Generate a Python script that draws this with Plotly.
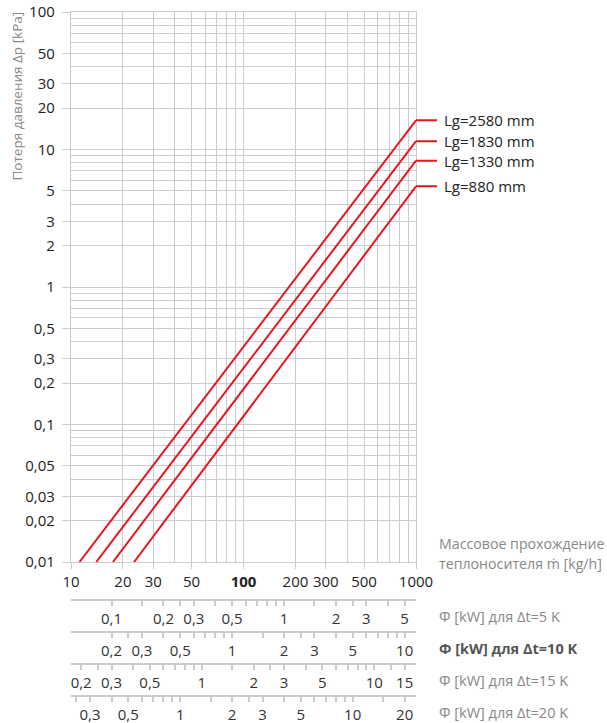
import numpy as np
import plotly.graph_objects as go

# pressure loss lines (start at 0.01 kPa, end at 1000 kg/h)
lg_labels = ["Lg=2580 mm", "Lg=1830 mm", "Lg=1330 mm", "Lg=880 mm"]
m_start = [11.2, 14.0, 17.5, 23.2]
dp_start = [0.01, 0.01, 0.01, 0.01]
m_end = [1000, 1000, 1000, 1000]
dp_end = [16.3, 11.5, 8.3, 5.4]

x_ticks = [10, 20, 30, 50, 100, 200, 300, 500, 1000]
y_ticks = [0.01, 0.02, 0.03, 0.05, 0.1, 0.2, 0.3, 0.5, 1, 2, 3, 5, 10, 20, 30, 50, 100]

# heat output scales under the chart
dt_values = [5, 10, 15, 20]
phi5_major = [0.1, 0.2, 0.3, 0.5, 1, 2, 3, 5]
phi5_minor = [0.15, 0.25, 0.4, 0.6, 0.7, 0.8, 0.9, 1.5, 2.5, 4]
phi10_major = [0.2, 0.3, 0.5, 1, 2, 3, 5, 10]
phi10_minor = [0.25, 0.4, 0.6, 0.7, 0.8, 0.9, 1.5, 2.5, 4, 6, 7, 8, 9]
phi15_major = [0.2, 0.3, 0.5, 1, 2, 3, 5, 10, 15]
phi15_minor = [0.25, 0.4, 0.6, 0.7, 0.8, 0.9, 1.5, 2.5, 4, 6, 7, 8, 9, 12.5]
phi20_major = [0.3, 0.5, 1, 2, 3, 5, 10, 20]
phi20_minor = [0.25, 0.4, 0.6, 0.7, 0.8, 0.9, 1.5, 2.5, 4, 6, 7, 8, 9, 15]
phi_major = [phi5_major, phi10_major, phi15_major, phi20_major]
phi_minor = [phi5_minor, phi10_minor, phi15_minor, phi20_minor]
cp = 4.19  # kJ/(kg K)

W, H = 607, 723
ML, MR, MT, MB = 71, 191, 12, 27
PW, PH = W - ML - MR, H - MT - MB
RED = "#e8161e"
GRID = "#cccccc"
GW = 1.3
FONT = "Open Sans"


def px_x(px):
    return (px - ML) / PW


def px_y(py):
    return (H - MB - py) / PH


def fmt(v):
    return f"{v:g}".replace(".", ",")


x_grid = [d * 10 ** e for e in range(1, 3) for d in range(2, 10)]
y_grid = [d * 10.0 ** e for e in range(-2, 2) for d in range(2, 10)]

fig = go.Figure()
for i in range(len(lg_labels)):
    fig.add_trace(go.Scatter(
        x=[m_start[i], m_end[i]], y=[dp_start[i], dp_end[i]],
        mode="lines", line=dict(color=RED, width=2),
        hoverinfo="skip", showlegend=False))

scale_px = [600, 632, 664, 696]
layout_axes = {}
for i, dt in enumerate(dt_values):
    k = dt * cp / 3600
    name = f"x{i + 2}"
    fig.add_trace(go.Scatter(x=[], y=[], xaxis=name, yaxis="y", showlegend=False))
    layout_axes[f"xaxis{i + 2}"] = dict(
        type="log", overlaying="x", anchor="free", position=px_y(scale_px[i]),
        side="bottom",
        range=[np.log10(10 * k), np.log10(1000 * k)],
        showgrid=False, zeroline=False,
        showline=True, linecolor=GRID, linewidth=2,
        ticks="outside", ticklen=5, tickwidth=1.5, tickcolor=GRID,
        tickvals=phi_major[i], ticktext=[fmt(v) for v in phi_major[i]],
        tickfont=dict(size=15, color="#333"),
        minor=dict(tickmode="array", tickvals=phi_minor[i], ticks="outside",
                   ticklen=5, tickwidth=1.5, tickcolor=GRID, showgrid=False),
    )

y0 = px_y(562)

fig.update_layout(
    width=W, height=H,
    margin=dict(l=ML, r=MR, t=MT, b=MB, autoexpand=False),
    plot_bgcolor="white", paper_bgcolor="white",
    font=dict(family=FONT, size=15, color="#222"),
    showlegend=False,
    xaxis=dict(
        type="log", range=[1, 3],
        tickvals=x_ticks,
        ticktext=["<b>100</b>" if v == 100 else fmt(v) for v in x_ticks],
        ticks="outside", ticklen=6, tickwidth=GW, tickcolor=GRID,
        showgrid=True, gridcolor=GRID, gridwidth=GW,
        minor=dict(tickmode="array", tickvals=x_grid, showgrid=True,
                   gridcolor=GRID, gridwidth=GW, ticks=""),
        showline=True, mirror=True, linecolor=GRID, linewidth=GW,
        zeroline=False, tickfont=dict(size=15, color="#222"),
    ),
    yaxis=dict(
        type="log", range=[-2, 2], domain=[y0, 1],
        tickvals=y_ticks, ticktext=[fmt(v) for v in y_ticks],
        ticks="outside", ticklen=8, tickwidth=GW, tickcolor=GRID,
        ticklabelstandoff=4,
        showgrid=True, gridcolor=GRID, gridwidth=GW,
        minor=dict(tickmode="array", tickvals=y_grid, showgrid=True,
                   gridcolor=GRID, gridwidth=GW, ticks=""),
        showline=True, mirror=True, linecolor=GRID, linewidth=GW,
        zeroline=False, tickfont=dict(size=15, color="#222"),
    ),
    **layout_axes,
)

# line labels with short horizontal leaders
for i, lab in enumerate(lg_labels):
    fig.add_annotation(
        x=np.log10(m_end[i]), y=np.log10(dp_end[i]), xref="x", yref="y",
        text=lab, showarrow=True, arrowhead=0, arrowwidth=2, arrowcolor=RED,
        ax=21, ay=0, xanchor="left", borderpad=6, standoff=0,
        font=dict(size=15, color="#222"))

# axis titles
fig.add_annotation(
    x=px_x(17), y=px_y(10), xref="paper", yref="paper",
    text="Потеря давления Δp [kPa]", textangle=-90, showarrow=False,
    xanchor="center", yanchor="top", font=dict(size=13.5, color="#888"))
fig.add_annotation(
    x=px_x(437), y=px_y(543), xref="paper", yref="paper",
    text="Массовое прохождение", showarrow=False,
    xanchor="left", yanchor="middle", font=dict(size=14.2, color="#888"))
fig.add_annotation(
    x=px_x(437), y=px_y(563), xref="paper", yref="paper",
    text="теплоносителя ṁ [kg/h]", showarrow=False,
    xanchor="left", yanchor="middle", font=dict(size=14.2, color="#888"))

for i, dt in enumerate(dt_values):
    txt = f"Φ [kW] для Δt={dt} K"
    col = "#888"
    if dt == 10:
        txt = f"<b>{txt}</b>"
        col = "#555"
    fig.add_annotation(
        x=px_x(437), y=px_y(scale_px[i] + 16.5), xref="paper", yref="paper",
        text=txt, showarrow=False, xanchor="left", yanchor="middle",
        font=dict(size=14.5, color=col))

# the page's default body margin would push the figure off the window
fig.write_html("out.html", config={"displayModeBar": False},
               post_script="document.body.style.margin = '0';")
